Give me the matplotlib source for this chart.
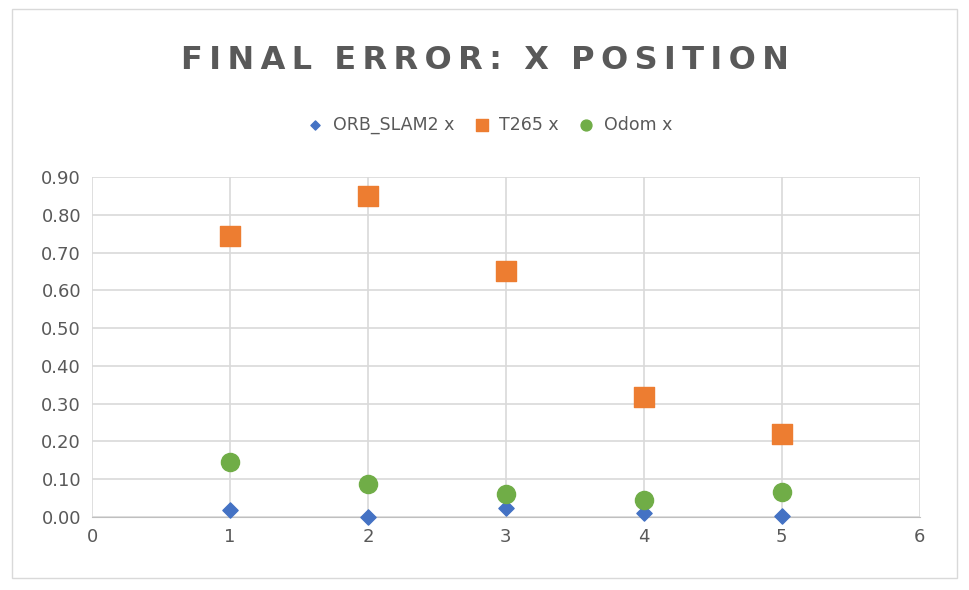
import matplotlib.pyplot as plt
from matplotlib.patches import Rectangle

runs = [1, 2, 3, 4, 5]
orb_x = [0.018, 0.0, 0.024, 0.010, 0.002]
t265_x = [0.745, 0.850, 0.650, 0.318, 0.220]
odom_x = [0.145, 0.087, 0.060, 0.045, 0.066]

fig = plt.figure(figsize=(9.7, 5.9), dpi=100)
fig.patches.append(Rectangle((0.012, 0.02), 0.975, 0.965, transform=fig.transFigure,
                             fill=False, edgecolor='#d9d9d9', lw=1))
ax = fig.add_axes([0.095, 0.124, 0.853, 0.576])

ax.scatter(runs, orb_x, marker='D', s=60, color='#4472c4', label='ORB_SLAM2 x', zorder=3, clip_on=False)
ax.scatter(runs, t265_x, marker='s', s=190, color='#ed7d31', label='T265 x', zorder=3, clip_on=False)
ax.scatter(runs, odom_x, marker='o', s=170, color='#70ad47', label='Odom x', zorder=3, clip_on=False)

ax.set_xlim(0, 6)
ax.set_ylim(0, 0.9)
ax.set_xticks(range(7))
ax.set_yticks([i / 10 for i in range(10)])
ax.set_yticklabels([f'{i / 10:.2f}' for i in range(10)])
ax.grid(color='#d9d9d9', lw=1.2)
ax.set_axisbelow(True)
for s in ['top', 'right', 'left']:
    ax.spines[s].set_visible(False)
ax.spines['bottom'].set_color('#bfbfbf')
ax.tick_params(length=0, labelsize=13, colors='#595959', pad=8)

fig.text(0.5, 0.898, 'F I N A L   E R R O R :   X   P O S I T I O N'.replace(' ', '\u2009').replace('\u2009\u2009\u2009', '  '),
         ha='center', va='center', fontsize=23, fontweight='bold', color='#595959')
fig.legend(loc='center', bbox_to_anchor=(0.5, 0.788), ncol=3, frameon=False,
           fontsize=12.5, labelcolor='#595959', handletextpad=0.0, columnspacing=0.6,
           markerscale=0.6)
fig.savefig('out.png')
